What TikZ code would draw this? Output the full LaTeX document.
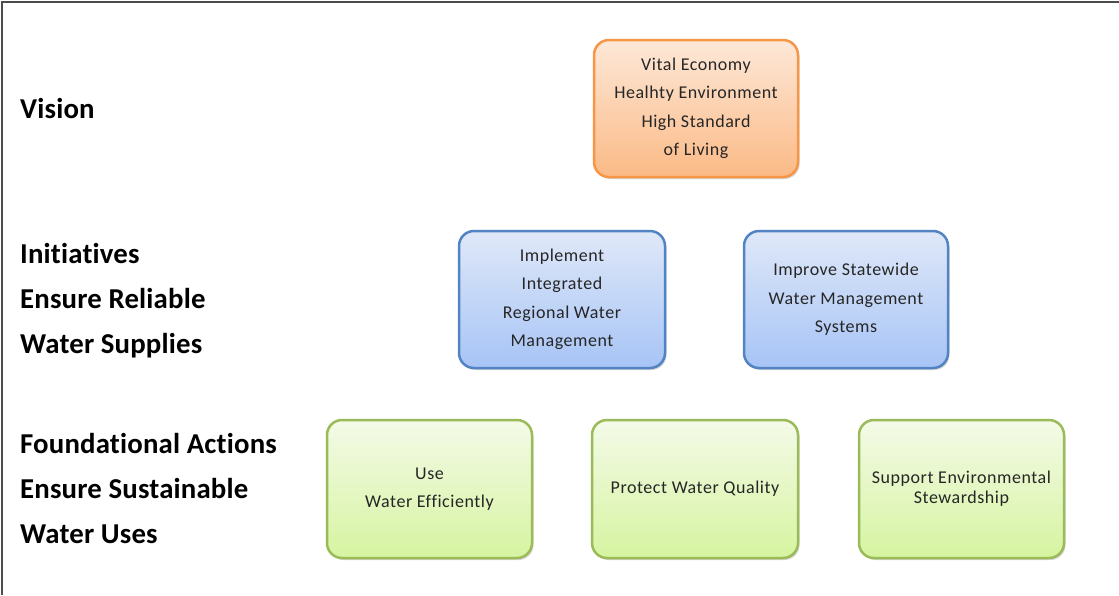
\documentclass[tikz,border=0pt]{standalone}
\usepackage{fontspec}
\setmainfont[Ligatures=NoCommon]{Carlito}
\newfontfamily\boxfont[Ligatures=NoCommon,LetterSpace=3]{Carlito}
\newfontfamily\lblfont[Ligatures=NoCommon,LetterSpace=0.6]{Carlito}
\usetikzlibrary{shadows}
\definecolor{orBorder}{HTML}{F79646}
\definecolor{orTop}{HTML}{FDE8D8}
\definecolor{orBot}{HTML}{FBBA86}
\definecolor{blBorder}{HTML}{5283C2}
\definecolor{blTop}{HTML}{DFE8F8}
\definecolor{blBot}{HTML}{A7C4F6}
\definecolor{grBorder}{HTML}{9BBB59}
\definecolor{grTop}{HTML}{F4FAE8}
\definecolor{grBot}{HTML}{D6F4A0}
\definecolor{txt}{HTML}{262626}
\tikzset{
  box/.style={rounded corners=15pt, line width=2.5pt, align=center,
    font=\boxfont\fontsize{18}{28.5}\selectfont, text=txt, inner sep=0pt,
    drop shadow={shadow xshift=1.5pt, shadow yshift=-2pt, fill=black!35, opacity=.45}},
  vbox/.style={box, draw=orBorder, top color=orTop, bottom color=orBot},
  ibox/.style={box, draw=blBorder, top color=blTop, bottom color=blBot},
  fbox/.style={box, draw=grBorder, top color=grTop, bottom color=grBot},
  lbl/.style={anchor=base west, inner sep=0pt, font=\lblfont\fontsize{28.8}{34}\selectfont\bfseries, text=black},
  frame/.style={line width=2pt, draw=black!70}
}
\begin{document}
\begin{tikzpicture}[x=1pt,y=-1pt]
\useasboundingbox (0,0) rectangle (1119,595);
\fill[white] (0,0) rectangle (1119,595);
\draw[frame] (2,595) -- (2,2) -- (1119,2);

% left labels
\node[lbl] (vision) at (20,118) {Vision};
\node[lbl] (ini1) at (20,263) {Initiatives};
\node[lbl] (ini2) at (20,308) {Ensure Reliable};
\node[lbl] (ini3) at (20,353) {Water Supplies};
\node[lbl] (fa1) at (20,453) {Foundational Actions};
\node[lbl] (fa2) at (20,498) {Ensure Sustainable};
\node[lbl] (fa3) at (20,543) {Water Uses};

% vision box
\node[vbox, minimum width=204pt, minimum height=137pt] (vis) at (696,108.5)
  {Vital Economy\\Healhty Environment\\High Standard\\of Living};

% initiatives
\node[ibox, minimum width=206pt, minimum height=137pt] (irwm) at (562,299.5)
  {Implement\\Integrated\\Regional Water\\Management};
\node[ibox, minimum width=204pt, minimum height=137pt] (swm) at (846,299.5)
  {Improve Statewide\\Water Management\\Systems};

% foundational actions
\node[fbox, minimum width=205pt, minimum height=138pt] (use) at (429.5,489)
  {Use\\Water Efficiently};
\node[fbox, minimum width=206pt, minimum height=138pt] (pwq) at (695,489)
  {Protect Water Quality};
\node[fbox, minimum width=205pt, minimum height=138pt, font=\boxfont\fontsize{18}{20}\selectfont] (ses) at (961.5,489)
  {Support Environmental\\Stewardship};
\end{tikzpicture}
\end{document}
